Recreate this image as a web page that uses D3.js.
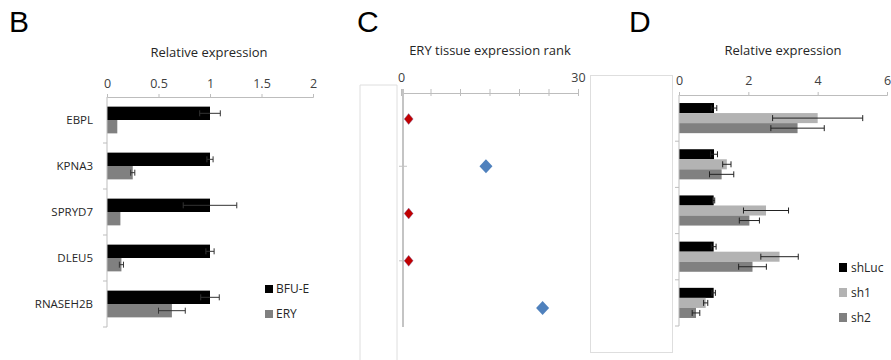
<!DOCTYPE html>
<html><head><meta charset="utf-8">
<script src="https://cdn.jsdelivr.net/npm/d3@7"></script>
<style>body{margin:0;background:#fff}svg{display:block}text{font-family:"Open Sans",sans-serif;fill:#262626}</style>
</head><body>
<svg id="c" width="891" height="360"></svg>
<script>
// ---- Data ----
const genes = ["EBPL","KPNA3","SPRYD7","DLEU5","RNASEH2B"];
const seriesB = ["BFU-E","ERY"];
const bfuE = [1,1,1,1,1];
const bfuEErr = [0.1,0.03,0.26,0.04,0.09];
const ery = [0.1,0.25,0.13,0.14,0.63];
const eryErr = [0.0,0.02,0.0,0.02,0.13];
const bTicks = [0,0.5,1,1.5,2];

const rankVal = [1.3,14.4,1.3,1.3,24.0];
const rankGroup = ["red","blue","red","red","blue"];
const cTicks = [0,5,10,15,20,25,30];
const cTickLabels = [0,30];

const seriesD = ["shLuc","sh1","sh2"];
const shLuc = [1.01,1.01,1.0,1.0,1.0];
const shLucErr = [0.08,0.1,0.03,0.07,0.05];
const sh1 = [4.0,1.38,2.51,2.9,0.77];
const sh1Err = [1.3,0.12,0.65,0.54,0.06];
const sh2 = [3.42,1.23,2.03,2.12,0.49];
const sh2Err = [0.77,0.35,0.29,0.4,0.11];
const dTicks = [0,2,4,6];

const svg = d3.select("#c");
const axisCol = "#bdbdbd";

// panel letters
[["B",9,32],["C",357,32],["D",629,32],["E",10,380]].forEach(([t,x,y])=>{
  svg.append("text").attr("x",x).attr("y",y).text(t)
    .style("font-family","'Liberation Sans',Arial,sans-serif").style("font-size","30px").style("fill","#000");
});

// decorative light boxes
svg.append("path").attr("d","M360,85V360M397,85V360M360,85H397").attr("stroke","#dedede").attr("fill","none");
svg.append("rect").attr("x",590.5).attr("y",75.5).attr("width",82).attr("height",277).attr("stroke","#dedede").attr("fill","none");

function errBar(g, x0, x1, yc, col){
  g.append("line").attr("x1",x0).attr("x2",x1).attr("y1",yc).attr("y2",yc).attr("stroke",col);
  g.append("line").attr("x1",x0).attr("x2",x0).attr("y1",yc-3).attr("y2",yc+3).attr("stroke",col);
  g.append("line").attr("x1",x1).attr("x2",x1).attr("y1",yc-3).attr("y2",yc+3).attr("stroke",col);
}

// ---- Panel B ----
{
  const g = svg.append("g");
  const x = d3.scaleLinear().domain([0,2]).range([107,313]);
  const y = d3.scaleBand().domain(genes).range([97,327]);
  const sub = d3.scaleBand().domain(seriesB).range([0,y.bandwidth()]).paddingOuter(0.72);
  const cols = {"BFU-E":"#000000","ERY":"#808080"};
  const vals = {"BFU-E":bfuE,"ERY":ery};
  const errs = {"BFU-E":bfuEErr,"ERY":eryErr};
  g.append("text").attr("x",209).attr("y",57).attr("text-anchor","middle").style("font-size","13px").text("Relative expression");
  const ax = g.append("g").attr("transform","translate(0,97)").call(d3.axisTop(x).tickValues(bTicks).tickSize(3).tickFormat(d3.format("")));
  ax.select(".domain").attr("stroke",axisCol);
  ax.selectAll(".tick line").attr("stroke",axisCol);
  ax.selectAll("text").attr("y",-9).style("font-size","12.5px").style("fill","#404040").style("font-family","'Open Sans',sans-serif");
  seriesB.forEach(s=>{
    genes.forEach((gname,i)=>{
      const yy = y(gname)+sub(s);
      g.append("rect").attr("x",x(0)).attr("y",yy).attr("width",x(vals[s][i])-x(0)).attr("height",sub.bandwidth()).attr("fill",cols[s]);
    });
  });
  seriesB.forEach(s=>{
    genes.forEach((gname,i)=>{
      const e = errs[s][i];
      if(e>0) errBar(g, x(vals[s][i]-e), x(vals[s][i]+e), y(gname)+sub(s)+sub.bandwidth()/2, "#333");
    });
  });
  g.append("line").attr("x1",107).attr("x2",107).attr("y1",97).attr("y2",327).attr("stroke",axisCol);
  genes.forEach((gname,i)=>{
    g.append("line").attr("x1",103).attr("x2",107).attr("y1",y(gname)+y.bandwidth()).attr("y2",y(gname)+y.bandwidth()).attr("stroke",axisCol);
    g.append("text").attr("x",93).attr("y",y(gname)+y.bandwidth()/2+4).attr("text-anchor","end").style("font-size","11.5px").text(gname);
  });
  seriesB.forEach((s,i)=>{
    g.append("rect").attr("x",265).attr("y",285+i*25).attr("width",8).attr("height",8).attr("fill",cols[s]);
    g.append("text").attr("x",276).attr("y",293+i*25).style("font-size","12px").text(s);
  });
}

// ---- Panel C ----
{
  const g = svg.append("g");
  const x = d3.scaleLinear().domain([0,30]).range([401,578]);
  const y = d3.scaleLinear().domain([0.45,5.4]).range([93,327]);
  g.append("text").attr("x",490).attr("y",55).attr("text-anchor","middle").style("font-size","13px").text("ERY tissue expression rank");
  const ax = g.append("g").attr("transform","translate(0,93)").call(d3.axisTop(x).tickValues(cTicks).tickSize(4).tickFormat(d=>cTickLabels.includes(d)?d:""));
  ax.select(".domain").attr("stroke",axisCol);
  ax.selectAll(".tick line").attr("stroke",axisCol).attr("y2",-4).attr("y1",3);
  ax.selectAll("text").attr("y",-11).style("font-size","12.5px").style("fill","#404040").style("font-family","'Open Sans',sans-serif");
  g.append("line").attr("x1",403).attr("x2",403).attr("y1",89).attr("y2",327).attr("stroke","#c4c4c4").attr("stroke-width",2);
  [2,4].forEach(t=>g.append("line").attr("x1",399).attr("x2",407).attr("y1",y(t)).attr("y2",y(t)).attr("stroke","#c4c4c4"));
  const colsC = {"red":"#C00000","blue":"#4F81BD"};
  rankVal.forEach((v,i)=>{
    const big = rankGroup[i]==="blue";
    const w = big?6.5:4.5, h = big?7:5.5;
    g.append("path").attr("transform",`translate(${x(v)},${y(i+1)})`)
      .attr("d",`M0,${-h}L${w},0L0,${h}L${-w},0Z`).attr("fill",colsC[rankGroup[i]])
      .attr("stroke",big?"none":"#8080c0").attr("stroke-width",0.4);
  });
}

// ---- Panel D ----
{
  const g = svg.append("g");
  const x = d3.scaleLinear().domain([0,6]).range([679,887]);
  const y = d3.scaleBand().domain(genes).range([95,326]);
  const sub = d3.scaleBand().domain(seriesD).range([0,y.bandwidth()]).paddingOuter(0.8);
  const cols = {"shLuc":"#000000","sh1":"#b3b3b3","sh2":"#808080"};
  const vals = {"shLuc":shLuc,"sh1":sh1,"sh2":sh2};
  const errs = {"shLuc":shLucErr,"sh1":sh1Err,"sh2":sh2Err};
  g.append("text").attr("x",783).attr("y",55).attr("text-anchor","middle").style("font-size","13px").text("Relative expression");
  const ax = g.append("g").attr("transform","translate(0,95)").call(d3.axisTop(x).tickValues(dTicks).tickSize(3).tickFormat(d3.format("")));
  ax.select(".domain").attr("stroke",axisCol);
  ax.selectAll(".tick line").attr("stroke",axisCol);
  ax.selectAll("text").attr("y",-10).style("font-size","12.5px").style("fill","#404040").style("font-family","'Open Sans',sans-serif");
  seriesD.forEach(s=>{
    genes.forEach((gname,i)=>{
      g.append("rect").attr("x",x(0)).attr("y",y(gname)+sub(s)).attr("width",x(vals[s][i])-x(0)).attr("height",sub.bandwidth()).attr("fill",cols[s]);
    });
  });
  seriesD.forEach(s=>{
    genes.forEach((gname,i)=>{
      const e = errs[s][i];
      errBar(g, x(vals[s][i]-e), x(vals[s][i]+e), y(gname)+sub(s)+sub.bandwidth()/2, "#222");
    });
  });
  g.append("line").attr("x1",679).attr("x2",679).attr("y1",95).attr("y2",326).attr("stroke",axisCol);
  genes.forEach(gname=>{
    g.append("line").attr("x1",675).attr("x2",679).attr("y1",y(gname)+y.bandwidth()).attr("y2",y(gname)+y.bandwidth()).attr("stroke",axisCol);
  });
  seriesD.forEach((s,i)=>{
    g.append("rect").attr("x",839).attr("y",263+i*25).attr("width",8).attr("height",9).attr("fill",cols[s]);
    g.append("text").attr("x",851).attr("y",272+i*25).style("font-size","12px").text(s);
  });
}
</script>
</body></html>
